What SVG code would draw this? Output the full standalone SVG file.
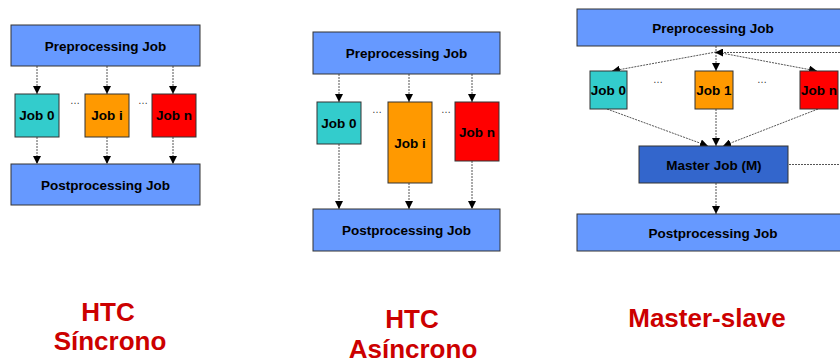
<svg xmlns="http://www.w3.org/2000/svg" width="840" height="363" viewBox="0 0 840 363">
  <style>
    .box { stroke: #333333; stroke-width: 1; }
    .blue { fill: #6699FF; }
    .teal { fill: #33CCCC; }
    .orange { fill: #FF9900; }
    .red { fill: #FF0000; }
    .master { fill: #3366CC; }
    .lbl { font-family: "Liberation Sans", Arial, sans-serif; font-weight: bold; font-size: 13.5px; fill: #000000; text-anchor: middle; }
    .dots { font-family: "Liberation Sans", Arial, sans-serif; font-size: 10px; fill: #333333; text-anchor: middle; }
    .title { font-family: "Liberation Sans", Arial, sans-serif; font-weight: bold; font-size: 26px; fill: #CC0000; text-anchor: middle; }
    .link { fill: none; stroke: #555555; stroke-width: 1; stroke-dasharray: 2 1; }
  </style>
  <defs>
    <marker id="arrow" viewBox="0 0 8 8" refX="8" refY="4" markerWidth="8" markerHeight="8" markerUnits="userSpaceOnUse" orient="auto">
      <path d="M0,0 L8,4 L0,8 z" fill="#000000"/>
    </marker>
  </defs>

  <!-- Connectors -->
  <g id="connectors">
    <!-- HTC sincrono -->
    <line class="link" x1="37" y1="66" x2="37" y2="94" marker-end="url(#arrow)"/>
    <line class="link" x1="107" y1="66" x2="107" y2="94" marker-end="url(#arrow)"/>
    <line class="link" x1="173" y1="66" x2="173" y2="94" marker-end="url(#arrow)"/>
    <line class="link" x1="37" y1="137" x2="37" y2="164" marker-end="url(#arrow)"/>
    <line class="link" x1="107" y1="137" x2="107" y2="164" marker-end="url(#arrow)"/>
    <line class="link" x1="173" y1="137" x2="173" y2="164" marker-end="url(#arrow)"/>
    <!-- HTC asincrono -->
    <line class="link" x1="339" y1="74" x2="339" y2="102" marker-end="url(#arrow)"/>
    <line class="link" x1="409" y1="74" x2="409" y2="102" marker-end="url(#arrow)"/>
    <line class="link" x1="472" y1="74" x2="472" y2="102" marker-end="url(#arrow)"/>
    <line class="link" x1="339" y1="144" x2="339" y2="209" marker-end="url(#arrow)"/>
    <line class="link" x1="409" y1="183" x2="409" y2="209" marker-end="url(#arrow)"/>
    <line class="link" x1="472" y1="161" x2="472" y2="209" marker-end="url(#arrow)"/>
    <!-- Master-slave -->
    <line class="link" x1="716" y1="46" x2="716" y2="71" marker-end="url(#arrow)"/>
    <line class="link" x1="716" y1="52" x2="612" y2="71" marker-end="url(#arrow)"/>
    <line class="link" x1="716" y1="52" x2="817" y2="71" marker-end="url(#arrow)"/>
    <line class="link" x1="840" y1="52.5" x2="715" y2="52.5" marker-end="url(#arrow)"/>
    <line class="link" x1="607" y1="109" x2="708" y2="146" marker-end="url(#arrow)"/>
    <line class="link" x1="716" y1="109" x2="716" y2="146" marker-end="url(#arrow)"/>
    <line class="link" x1="818" y1="109" x2="723" y2="146" marker-end="url(#arrow)"/>
    <line class="link" x1="789" y1="164.5" x2="840" y2="164.5"/>
    <line class="link" x1="716" y1="183" x2="716" y2="214" marker-end="url(#arrow)"/>
  </g>

  <!-- HTC sincrono -->
  <g id="sync-pre">
    <rect class="box blue" x="11" y="25" width="189" height="41"/>
    <text class="lbl" x="105.5" y="50.5">Preprocessing Job</text>
  </g>
  <g id="sync-job0">
    <rect class="box teal" x="15" y="94" width="44" height="43"/>
    <text class="lbl" x="37" y="120">Job 0</text>
  </g>
  <g id="sync-jobi">
    <rect class="box orange" x="85" y="94" width="44" height="43"/>
    <text class="lbl" x="107" y="120">Job i</text>
  </g>
  <g id="sync-jobn">
    <rect class="box red" x="152" y="94" width="44" height="43"/>
    <text class="lbl" x="174" y="120">Job n</text>
  </g>
  <text class="dots" x="75" y="104">…</text>
  <text class="dots" x="143" y="104">…</text>
  <g id="sync-post">
    <rect class="box blue" x="11" y="164" width="189" height="41"/>
    <text class="lbl" x="105.5" y="189.5">Postprocessing Job</text>
  </g>

  <!-- HTC asincrono -->
  <g id="async-pre">
    <rect class="box blue" x="313" y="32" width="187" height="42"/>
    <text class="lbl" x="406.5" y="58">Preprocessing Job</text>
  </g>
  <g id="async-job0">
    <rect class="box teal" x="317" y="102" width="44" height="42"/>
    <text class="lbl" x="339" y="128">Job 0</text>
  </g>
  <g id="async-jobi">
    <rect class="box orange" x="388" y="102" width="44" height="81"/>
    <text class="lbl" x="410" y="148">Job i</text>
  </g>
  <g id="async-jobn">
    <rect class="box red" x="455" y="102" width="44" height="59"/>
    <text class="lbl" x="477" y="136.5">Job n</text>
  </g>
  <text class="dots" x="377" y="113">…</text>
  <text class="dots" x="446" y="113">…</text>
  <g id="async-post">
    <rect class="box blue" x="313" y="209" width="187" height="42"/>
    <text class="lbl" x="406.5" y="235">Postprocessing Job</text>
  </g>

  <!-- Master-slave -->
  <g id="ms-pre">
    <rect class="box blue" x="577" y="9" width="280" height="37"/>
    <text class="lbl" x="713" y="32.5">Preprocessing Job</text>
  </g>
  <g id="ms-job0">
    <rect class="box teal" x="590" y="71" width="37" height="38"/>
    <text class="lbl" x="608.5" y="95">Job 0</text>
  </g>
  <g id="ms-job1">
    <rect class="box orange" x="695" y="71" width="38" height="38"/>
    <text class="lbl" x="714" y="95">Job 1</text>
  </g>
  <g id="ms-jobn">
    <rect class="box red" x="800" y="71" width="38" height="38"/>
    <text class="lbl" x="819" y="95">Job n</text>
  </g>
  <text class="dots" x="658" y="83">…</text>
  <text class="dots" x="762" y="83">…</text>
  <g id="ms-master">
    <rect class="box master" x="639" y="146" width="149" height="37"/>
    <text class="lbl" x="714" y="169.5">Master Job (M)</text>
  </g>
  <g id="ms-post">
    <rect class="box blue" x="577" y="214" width="280" height="37"/>
    <text class="lbl" x="713" y="237.5">Postprocessing Job</text>
  </g>

  <!-- Titles -->
  <text class="title" x="108" y="321">HTC</text>
  <text class="title" x="110" y="350">Síncrono</text>
  <text class="title" x="412" y="328">HTC</text>
  <text class="title" x="413" y="358">Asíncrono</text>
  <text class="title" x="707" y="327">Master-slave</text>
</svg>
